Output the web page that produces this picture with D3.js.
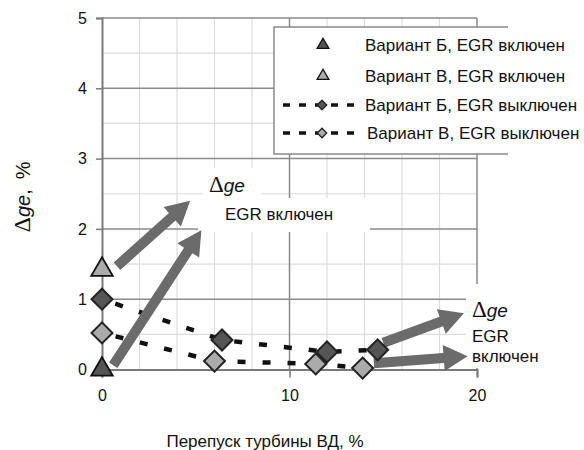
<!DOCTYPE html>
<html>
<head>
<meta charset="utf-8">
<script src="https://cdn.jsdelivr.net/npm/d3@7"></script>
<style>
  body { margin: 0; background: #fff; }
  svg { display: block; font-family: "Liberation Sans", Arial, sans-serif; }
</style>
</head>
<body>
<svg id="chart" width="584" height="450"></svg>
<script>
// data
const bOffX = [0, 6.4, 12.0, 14.7];
const bOffY = [1.0, 0.42, 0.25, 0.28];
const vOffX = [0, 6.0, 11.4, 13.9];
const vOffY = [0.52, 0.12, 0.08, 0.02];
const bOnX = [0];
const bOnY = [0];
const vOnX = [0];
const vOnY = [1.42];
const xTicks = [0, 10, 20];
const yTicks = [0, 1, 2, 3, 4, 5];
const legendLabels = [
  "Вариант Б, EGR включен",
  "Вариант В, EGR включен",
  "Вариант Б, EGR выключен",
  "Вариант В, EGR выключен"
];
// annotation arrows, in data units [x0, y0, x1, y1]
const arrows = [
  [0.8, 1.47, 4.7, 2.40],
  [0.6, 0.06, 5.3, 1.98],
  [15.0, 0.38, 19.3, 0.80],
  [14.5, 0.09, 19.5, 0.19]
];

const dark = "#555555", light = "#ababab", arrowCol = "#6b6b6b";

const svg = d3.select("#chart");
const x = d3.scaleLinear().domain([0, 20]).range([102, 477]);
const y = d3.scaleLinear().domain([0, 5]).range([369.5, 18]);

// minor grid
const grid = svg.append("g");
grid.selectAll("line.vx")
  .data(d3.range(2, 20, 2).filter(v => v % 10 !== 0))
  .join("line")
  .attr("x1", d => x(d)).attr("x2", d => x(d))
  .attr("y1", y(5)).attr("y2", y(0))
  .attr("stroke", "#dcdcdc").attr("stroke-width", 1.2);
grid.selectAll("line.hy")
  .data(d3.range(0.5, 5, 1))
  .join("line")
  .attr("x1", x(0)).attr("x2", x(20))
  .attr("y1", d => y(d)).attr("y2", d => y(d))
  .attr("stroke", "#dcdcdc").attr("stroke-width", 1.2);

// major grid
svg.append("g").selectAll("line")
  .data(yTicks.filter(d => d > 0))
  .join("line")
  .attr("x1", x(0)).attr("x2", x(20))
  .attr("y1", d => y(d)).attr("y2", d => y(d))
  .attr("stroke", "#8a8a8a").attr("stroke-width", 1.5);
svg.append("g").selectAll("line")
  .data(xTicks.filter(d => d > 0))
  .join("line")
  .attr("x1", d => x(d)).attr("x2", d => x(d))
  .attr("y1", y(5)).attr("y2", y(0))
  .attr("stroke", "#8a8a8a").attr("stroke-width", 1.5);

// axes
const yAxis = svg.append("g")
  .attr("transform", `translate(${x(0)},0)`)
  .call(d3.axisLeft(y).tickValues(yTicks).tickSize(6).tickPadding(9).tickFormat(d3.format("d")));
const xAxis = svg.append("g")
  .attr("transform", `translate(0,${y(0)})`)
  .call(d3.axisBottom(x).tickValues(xTicks).tickSize(8).tickPadding(12).tickFormat(d3.format("d")));
[yAxis, xAxis].forEach(a => {
  a.select(".domain").attr("stroke", "#7a7a7a").attr("stroke-width", 2);
  a.selectAll(".tick line").attr("stroke", "#7a7a7a").attr("stroke-width", 1.5);
  a.selectAll("text").attr("font-size", 16).attr("fill", "#111")
    .attr("font-family", "Liberation Sans, Arial, sans-serif");
});

// white boxes behind annotations
svg.append("rect").attr("x", 203).attr("y", 168).attr("width", 58).attr("height", 30).attr("fill", "#fff");
svg.append("rect").attr("x", 198).attr("y", 198).attr("width", 172).attr("height", 34).attr("fill", "#fff");
svg.append("rect").attr("x", 466).attr("y", 284).attr("width", 118).attr("height", 84).attr("fill", "#fff");

// dashed lines
const line = d3.line().x(d => x(d[0])).y(d => y(d[1]));
[[bOffX, bOffY], [vOffX, vOffY]].forEach(([xs, ys]) => {
  svg.append("path")
    .datum(xs.map((v, i) => [v, ys[i]]))
    .attr("d", line)
    .attr("fill", "none").attr("stroke", "#111")
    .attr("stroke-width", 4.5).attr("stroke-dasharray", "8,17").attr("stroke-dashoffset", -14);
});

// arrows
function arrowPath(x0, y0, x1, y1, shaft, headW, headL) {
  const dx = x1 - x0, dy = y1 - y0, len = Math.hypot(dx, dy);
  const ux = dx / len, uy = dy / len, px = -uy, py = ux;
  const bx = x1 - ux * headL, by = y1 - uy * headL;
  const pts = [
    [x0 + px * shaft / 2, y0 + py * shaft / 2],
    [bx + px * shaft / 2, by + py * shaft / 2],
    [bx + px * headW / 2, by + py * headW / 2],
    [x1, y1],
    [bx - px * headW / 2, by - py * headW / 2],
    [bx - px * shaft / 2, by - py * shaft / 2],
    [x0 - px * shaft / 2, y0 - py * shaft / 2]
  ];
  return "M" + pts.map(p => p.join(",")).join("L") + "Z";
}
svg.append("g").selectAll("path")
  .data(arrows)
  .join("path")
  .attr("d", d => arrowPath(x(d[0]), y(d[1]), x(d[2]), y(d[3]), 10, 26, 24))
  .attr("fill", arrowCol);

// markers
const tri = d3.symbol().type(d3.symbolTriangle).size(200);
const dia = d3.symbol().type(d3.symbolSquare).size(220);
function drawTri(xs, ys, fill) {
  svg.append("g").selectAll("path")
    .data(xs.map((v, i) => [v, ys[i]]))
    .join("path")
    .attr("d", tri)
    .attr("transform", d => `translate(${x(d[0])},${y(d[1])})`)
    .attr("fill", fill).attr("stroke", "#111").attr("stroke-width", 1.8);
}
function drawDia(xs, ys, fill) {
  svg.append("g").selectAll("path")
    .data(xs.map((v, i) => [v, ys[i]]))
    .join("path")
    .attr("d", dia)
    .attr("transform", d => `translate(${x(d[0])},${y(d[1])}) rotate(45)`)
    .attr("fill", fill).attr("stroke", "#222").attr("stroke-width", 2);
}
drawDia(vOffX, vOffY, light);
drawDia(bOffX, bOffY, dark);
drawTri(vOnX, vOnY, light);
drawTri(bOnX, bOnY, dark);

// annotation texts
function deltaGe(sel, px, py) {
  const t = sel.append("text").attr("x", px).attr("y", py).attr("font-size", 19).attr("fill", "#111");
  t.append("tspan").attr("font-family", "Liberation Serif, serif").attr("font-size", 23).text("Δ");
  t.append("tspan").attr("font-style", "italic").text("ge");
  return t;
}
deltaGe(svg, 209, 192);
svg.append("text").attr("x", 225).attr("y", 220).attr("font-size", 17).attr("fill", "#111").text("EGR включен");
deltaGe(svg, 472, 317);
svg.append("text").attr("x", 472).attr("y", 342).attr("font-size", 17).attr("fill", "#111").text("EGR");
svg.append("text").attr("x", 472).attr("y", 362).attr("font-size", 17).attr("fill", "#111").text("включен");

// axis titles
const yt = svg.append("text")
  .attr("transform", "translate(30,197) rotate(-90)")
  .attr("text-anchor", "middle").attr("font-size", 20).attr("fill", "#111");
yt.append("tspan").attr("font-family", "Liberation Serif, serif").attr("font-size", 24).text("Δ");
yt.append("tspan").attr("font-style", "italic").text("ge");
yt.append("tspan").text(",");
yt.append("tspan").attr("dx", 10).text("%");

svg.append("text")
  .attr("x", 265).attr("y", 447)
  .attr("text-anchor", "middle").attr("font-size", 17).attr("fill", "#111")
  .text("Перепуск турбины ВД, %");

// legend
const lg = svg.append("g");
lg.append("rect").attr("x", 274).attr("y", 27).attr("width", 310).attr("height", 127).attr("fill", "#fff");
lg.append("path").attr("d", "M508,27H274V154H508")
  .attr("fill", "none").attr("stroke", "#8a8a8a").attr("stroke-width", 1.5);
const rowY = [45, 76, 105, 133];
legendLabels.forEach((lab, i) => {
  const cy = rowY[i];
  if (i < 2) {
    lg.append("path").attr("d", d3.symbol().type(d3.symbolTriangle).size(60))
      .attr("transform", `translate(323,${cy})`)
      .attr("fill", i === 0 ? dark : light).attr("stroke", "#111").attr("stroke-width", 1.3);
  } else {
    lg.append("line").attr("x1", 283).attr("x2", 357).attr("y1", cy).attr("y2", cy)
      .attr("stroke", "#111").attr("stroke-width", 3.5).attr("stroke-dasharray", "7,9");
    lg.append("path").attr("d", d3.symbol().type(d3.symbolSquare).size(45))
      .attr("transform", `translate(322,${cy}) rotate(45)`)
      .attr("fill", i === 2 ? dark : light).attr("stroke", "#222").attr("stroke-width", 1.3);
  }
  lg.append("text").attr("x", i === 3 ? 367 : 365).attr("y", cy + 6)
    .attr("font-size", 17).attr("fill", "#111").text(lab);
});
</script>
</body>
</html>
